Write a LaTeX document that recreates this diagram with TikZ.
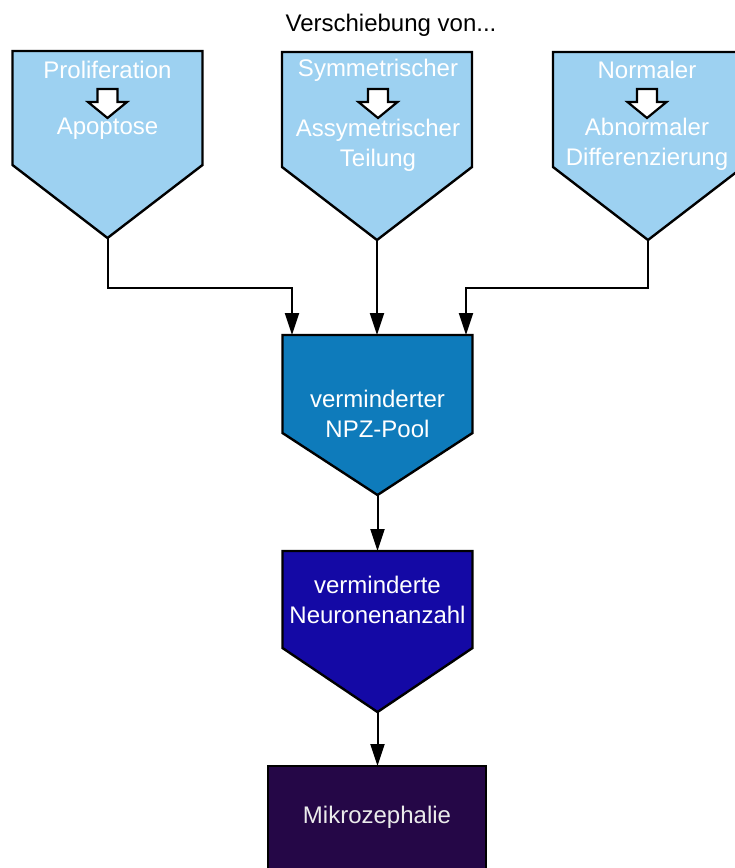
\documentclass[tikz,border=0pt]{standalone}
\usepackage{fontspec}
\setmainfont{Liberation Sans}
\usetikzlibrary{arrows.meta,calc}

\definecolor{lightblue}{HTML}{9DD1F1}
\definecolor{midblue}{HTML}{0E7BBB}
\definecolor{deepblue}{HTML}{1409A5}
\definecolor{darkpurple}{HTML}{250747}

\tikzset{
  boxline/.style={draw=black, line width=2.4pt, line join=miter},
  lbl/.style={text=white, font=\fontsize{24}{29.5}\selectfont, align=center, inner sep=0pt},
  conn/.style={draw=black, line width=2pt, -{Triangle[length=22pt,width=14pt]}},
  shiftarrow/.style={draw=black, fill=white, line width=2.2pt, line join=miter},
}

% pentagon box: #1 colour, #2 centre x, #3 top y, #4 shoulder y, #5 tip y, half width 95
\newcommand{\pentabox}[5]{%
  \path[boxline, fill=#1] (#2-95,#3) -- (#2+95,#3) -- (#2+95,#4) -- (#2,#5) -- (#2-95,#4) -- cycle;}
% hollow down arrow centred at x = #1
\newcommand{\shiftarr}[1]{%
  \path[shiftarrow] (#1-10,89) -- (#1+10,89) -- (#1+10,102) -- (#1+19.5,102) -- (#1,118)
    -- (#1-19.5,102) -- (#1-10,102) -- cycle;}

\begin{document}
\begin{tikzpicture}[x=1pt, y=-1pt]
\useasboundingbox (0,0) rectangle (735,868);
\clip (0,0) rectangle (735,868);

% heading
\node[lbl, text=black] (title) at (391,25) {Verschiebung von...};

% three upper boxes
\pentabox{lightblue}{107.5}{51}{165}{238}
\pentabox{lightblue}{377}{52}{167}{240}
\pentabox{lightblue}{648}{52}{167}{240}
\coordinate (tip1) at (107.5,238);
\coordinate (tip2) at (377,240);
\coordinate (tip3) at (648,240);

\node[lbl] (p1) at (107.5,70) {Proliferation};
\shiftarr{107.5}
\node[lbl] (a1) at (107.5,129) {Apoptose};

\node[lbl] (p2) at (378,70) {Symmetrischer};
\shiftarr{378}
\node[lbl, anchor=north] (a2) at (378,119) {Assymetrischer\\Teilung};

\node[lbl] (p3) at (647,70) {Normaler};
\shiftarr{647}
\node[lbl, anchor=north] (a3) at (647,118) {Abnormaler\\Differenzierung};

% NPZ pool
\pentabox{midblue}{377.5}{335}{433}{495}
\coordinate (in1) at (292,335);
\coordinate (in2) at (377,335);
\coordinate (in3) at (466,335);
\coordinate (tip4) at (377.5,495);
\node[lbl] (npz) at (377.5,414) {verminderter\\NPZ-Pool};

% neuron count
\pentabox{deepblue}{377.5}{551}{648}{712}
\coordinate (top5) at (377.5,551);
\coordinate (tip5) at (377.5,712);
\node[lbl] (neur) at (377.5,600) {verminderte\\Neuronenanzahl};

% microcephaly
\path[boxline, fill=darkpurple] (268,766) rectangle (486,890);
\coordinate (top6) at (377.5,766);
\node[lbl, text=white!92!black] (mikro) at (377,817) {Mikrozephalie};

% connectors
\draw[conn] (tip1) |- ([yshift=47pt]in1) -- (in1);
\draw[conn] (tip2) -- (in2);
\draw[conn] (tip3) |- ([yshift=47pt]in3) -- (in3);
\draw[conn] (tip4) -- (top5);
\draw[conn] (tip5) -- (top6);
\end{tikzpicture}
\end{document}
